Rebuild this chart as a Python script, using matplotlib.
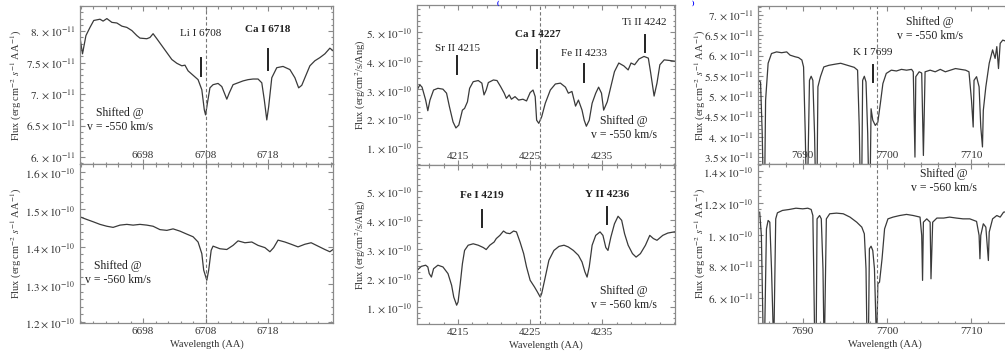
import numpy as np
import matplotlib
matplotlib.use("Agg")
import matplotlib.pyplot as plt
from matplotlib.ticker import FuncFormatter, AutoMinorLocator

plt.rcParams['font.family'] = ['Liberation Serif', 'DejaVu Serif']
plt.rcParams['mathtext.fontset'] = 'stix'
plt.rcParams['font.size'] = 8

# ---- data (wavelength in AA, flux in the unit given by the name) ----
# Li I 6708 region, v = -550 km/s (flux in 1e-11)
li_top = [(6687.9, 7.90), (6688.3, 7.64), (6688.85, 7.93), (6689.5, 8.06), (6690.1, 8.17),
          (6691.1, 8.19), (6691.6, 8.16), (6692.2, 8.20), (6693.0, 8.14), (6693.8, 8.13),
          (6694.6, 8.08), (6695.4, 8.06), (6696.2, 8.01), (6697.0, 7.93), (6697.5, 7.89),
          (6698.6, 7.88), (6699.1, 7.90), (6699.6, 7.96), (6700.2, 7.88), (6701.0, 7.77),
          (6701.8, 7.66), (6702.6, 7.55), (6703.4, 7.49), (6704.2, 7.45), (6704.7, 7.46),
          (6705.2, 7.37), (6706.0, 7.30), (6706.8, 7.23), (6707.4, 7.07), (6707.8, 6.75),
          (6708.0, 6.67), (6708.3, 6.86), (6708.7, 7.10), (6709.2, 7.15), (6710.0, 7.17),
          (6710.6, 7.12), (6711.4, 6.92), (6711.8, 7.02), (6712.4, 7.15), (6713.2, 7.18),
          (6714.0, 7.21), (6714.8, 7.23), (6715.6, 7.24), (6716.4, 7.24), (6717.0, 7.18),
          (6717.4, 6.91), (6717.8, 6.59), (6718.1, 6.80), (6718.6, 7.26), (6719.4, 7.42),
          (6720.4, 7.44), (6721.5, 7.39), (6722.3, 7.26), (6722.9, 7.10), (6723.4, 7.14),
          (6723.9, 7.26), (6724.7, 7.45), (6725.5, 7.53), (6726.3, 7.58), (6727.1, 7.64),
          (6727.9, 7.73), (6728.4, 7.69)]
# Li I 6708 region, v = -560 km/s (flux in 1e-10)
li_bot = [(6687.9, 1.480), (6689.0, 1.473), (6690.0, 1.467), (6691.1, 1.460), (6692.2, 1.455),
          (6693.2, 1.452), (6694.3, 1.458), (6695.4, 1.460), (6696.4, 1.458), (6697.5, 1.460),
          (6698.6, 1.458), (6699.6, 1.455), (6700.7, 1.446), (6701.8, 1.444), (6702.8, 1.448),
          (6703.9, 1.442), (6705.0, 1.434), (6706.0, 1.427), (6706.8, 1.413), (6707.4, 1.382),
          (6707.7, 1.338), (6708.2, 1.311), (6708.5, 1.338), (6708.9, 1.391), (6709.2, 1.402),
          (6710.3, 1.395), (6711.4, 1.393), (6712.4, 1.404), (6713.2, 1.416), (6714.3, 1.411),
          (6715.4, 1.413), (6716.4, 1.404), (6717.5, 1.398), (6718.3, 1.387), (6718.9, 1.398),
          (6719.6, 1.418), (6720.7, 1.413), (6721.7, 1.407), (6722.8, 1.400), (6723.9, 1.407),
          (6724.9, 1.411), (6726.0, 1.402), (6727.1, 1.393), (6727.9, 1.387), (6728.4, 1.393)]
# Ca I 4227 region, v = -550 km/s (flux in 1e-10)
ca_top = [(4209.3, 2.98), (4209.7, 3.16), (4210.0, 3.08), (4210.5, 2.63), (4210.8, 2.26),
          (4211.1, 2.63), (4211.6, 2.98), (4212.2, 3.04), (4212.9, 3.01), (4213.4, 2.87),
          (4213.8, 2.40), (4214.3, 1.87), (4214.7, 1.66), (4215.1, 1.76), (4215.6, 2.28),
          (4215.9, 2.34), (4216.3, 2.57), (4216.6, 3.04), (4217.1, 3.27), (4217.8, 3.31),
          (4218.3, 3.22), (4218.6, 2.81), (4218.9, 2.98), (4219.2, 3.24), (4219.9, 3.33),
          (4220.4, 3.31), (4220.9, 3.10), (4221.4, 2.87), (4221.7, 2.69), (4222.1, 2.81),
          (4222.4, 2.66), (4222.9, 2.75), (4223.4, 2.63), (4224.0, 2.66), (4224.5, 2.60),
          (4225.0, 2.89), (4225.4, 2.98), (4225.7, 2.75), (4225.9, 1.93), (4226.2, 1.82),
          (4226.6, 2.05), (4227.1, 2.52), (4227.8, 2.98), (4228.5, 3.19), (4229.2, 3.22),
          (4229.9, 3.08), (4230.3, 2.87), (4230.8, 2.93), (4231.3, 2.42), (4231.7, 2.63),
          (4232.2, 2.28), (4232.5, 1.93), (4232.8, 1.72), (4233.2, 1.93), (4233.6, 2.52),
          (4234.1, 2.87), (4234.5, 3.08), (4234.9, 2.87), (4235.2, 2.28), (4235.7, 2.57),
          (4236.2, 3.10), (4236.7, 3.62), (4237.3, 3.92), (4238.0, 3.82), (4238.6, 3.68),
          (4239.0, 3.92), (4239.5, 3.86), (4240.1, 4.06), (4240.8, 4.15), (4241.4, 4.09),
          (4241.7, 3.62), (4242.2, 2.77), (4242.6, 3.22), (4243.0, 3.86), (4243.6, 4.03),
          (4244.3, 4.01), (4245.2, 3.98)]
# Ca I 4227 region, v = -560 km/s (flux in 1e-10)
ca_bot = [(4209.3, 2.26), (4209.9, 2.40), (4210.5, 2.44), (4210.8, 2.38), (4211.0, 2.15),
          (4211.3, 2.03), (4211.6, 2.32), (4212.2, 2.44), (4212.9, 2.38), (4213.6, 2.15),
          (4214.1, 1.75), (4214.4, 1.34), (4214.8, 1.06), (4215.0, 1.17), (4215.3, 1.80),
          (4215.6, 2.49), (4215.9, 2.95), (4216.4, 3.13), (4217.1, 3.18), (4217.8, 3.13),
          (4218.5, 3.05), (4218.9, 2.98), (4219.4, 3.13), (4220.0, 3.24), (4220.3, 3.36),
          (4220.8, 3.47), (4221.3, 3.62), (4221.7, 3.55), (4222.2, 3.53), (4222.7, 3.62),
          (4223.1, 3.59), (4223.6, 3.24), (4224.1, 2.84), (4224.5, 2.38), (4225.0, 1.92),
          (4225.6, 1.69), (4226.0, 1.52), (4226.4, 1.34), (4226.6, 1.46), (4227.1, 2.03),
          (4227.6, 2.61), (4228.3, 2.95), (4229.0, 3.09), (4229.7, 3.13), (4230.3, 3.07),
          (4231.0, 2.95), (4231.7, 2.78), (4232.2, 2.55), (4232.6, 2.21), (4232.9, 2.03),
          (4233.2, 2.38), (4233.6, 3.13), (4234.1, 3.47), (4234.7, 3.59), (4235.1, 3.47),
          (4235.5, 3.05), (4235.8, 2.95), (4236.2, 3.41), (4236.7, 3.87), (4237.2, 4.13),
          (4237.7, 3.99), (4238.1, 3.53), (4238.6, 3.13), (4239.2, 2.84), (4239.7, 2.72),
          (4240.3, 2.84), (4241.0, 3.13), (4241.6, 3.47), (4242.1, 3.36), (4242.6, 3.30),
          (4243.4, 3.47), (4244.1, 3.55), (4245.2, 3.60)]
# K I 7699 region, v = -550 km/s (flux in 1e-11)
k_top = [(7684.7, 5.39), (7685.0, 5.35), (7685.2, 4.08), (7685.3, 3.00), (7685.5, 3.00),
         (7685.6, 4.90), (7685.9, 5.81), (7686.3, 6.05), (7686.9, 6.09), (7687.5, 6.07),
         (7688.1, 6.09), (7688.5, 6.01), (7689.1, 5.97), (7689.5, 5.95), (7689.9, 5.89),
         (7690.1, 5.72), (7690.3, 4.08), (7690.4, 3.00), (7690.6, 3.00), (7690.8, 5.39),
         (7691.0, 5.49), (7691.2, 5.39), (7691.4, 4.08), (7691.5, 3.00), (7691.7, 3.00),
         (7691.8, 5.23), (7692.1, 5.48), (7692.5, 5.72), (7693.1, 5.76), (7693.9, 5.79),
         (7694.5, 5.81), (7695.3, 5.76), (7696.1, 5.71), (7696.5, 5.64), (7696.7, 4.24),
         (7696.8, 3.00), (7697.0, 3.00), (7697.1, 5.39), (7697.3, 5.49), (7697.5, 5.35),
         (7697.7, 4.08), (7697.8, 3.00), (7698.0, 3.00), (7698.1, 4.69), (7698.3, 4.41),
         (7698.6, 4.28), (7698.9, 4.36), (7699.2, 4.82), (7699.5, 5.31), (7699.9, 5.56),
         (7700.5, 5.64), (7701.1, 5.62), (7701.7, 5.66), (7702.3, 5.64), (7702.9, 5.66),
         (7703.1, 5.60), (7703.3, 3.50), (7703.4, 5.48), (7703.8, 5.60), (7704.1, 5.57),
         (7704.3, 3.54), (7704.5, 5.60), (7705.1, 5.64), (7705.7, 5.60), (7706.3, 5.66),
         (7706.9, 5.60), (7707.5, 5.64), (7708.1, 5.68), (7708.7, 5.66), (7709.3, 5.64),
         (7709.7, 5.60), (7710.0, 4.90), (7710.2, 4.24), (7710.3, 5.39), (7710.6, 5.48),
         (7710.9, 5.23), (7711.1, 4.24), (7711.3, 3.75), (7711.4, 4.65), (7711.7, 5.23),
         (7712.1, 5.81), (7712.5, 6.14), (7712.8, 5.93), (7713.0, 6.22), (7713.2, 5.68),
         (7713.4, 6.30), (7713.7, 6.38), (7714.3, 6.34)]
# K I 7699 region, v = -560 km/s (flux in 1e-10)
k_bot = [(7684.9, 1.141), (7685.1, 0.995), (7685.3, 0.40), (7685.5, 0.40), (7685.7, 1.036),
         (7685.9, 1.089), (7686.1, 1.078), (7686.3, 0.785), (7686.5, 0.40), (7686.6, 0.40),
         (7686.8, 1.099), (7687.0, 1.137), (7687.6, 1.152), (7688.4, 1.158), (7689.2, 1.166),
         (7690.0, 1.162), (7690.6, 1.166), (7691.0, 1.158), (7691.2, 1.120), (7691.3, 0.785),
         (7691.4, 0.40), (7691.6, 0.40), (7691.7, 1.099), (7692.0, 1.120), (7692.2, 1.099),
         (7692.4, 0.785), (7692.5, 0.40), (7692.6, 0.40), (7692.8, 1.099), (7693.2, 1.131),
         (7694.0, 1.135), (7694.8, 1.131), (7695.6, 1.110), (7696.4, 1.078), (7697.0, 1.047),
         (7697.3, 1.005), (7697.5, 0.785), (7697.6, 0.40), (7697.8, 0.40), (7697.9, 0.911),
         (7698.1, 0.927), (7698.3, 0.900), (7698.5, 0.785), (7698.7, 0.40), (7698.8, 0.40),
         (7698.9, 0.691), (7699.1, 0.701), (7699.4, 0.848), (7699.7, 1.036), (7700.1, 1.099),
         (7700.7, 1.110), (7701.5, 1.120), (7702.3, 1.127), (7703.1, 1.120), (7703.9, 1.110),
         (7704.1, 0.995), (7704.2, 0.712), (7704.3, 1.078), (7704.7, 1.099), (7705.1, 1.078),
         (7705.2, 0.722), (7705.4, 1.078), (7705.9, 1.104), (7706.7, 1.104), (7707.4, 1.110),
         (7708.2, 1.104), (7709.0, 1.099), (7709.8, 1.099), (7710.6, 1.083), (7710.9, 0.995),
         (7711.0, 0.848), (7711.1, 0.995), (7711.4, 1.068), (7711.7, 1.047), (7712.0, 0.837),
         (7712.1, 1.016), (7712.5, 1.099), (7713.0, 1.120), (7713.4, 1.110), (7713.8, 1.141),
         (7714.3, 1.145)]

# line identifications: (label, x, label y, marker y0, marker y1, bold)
li_top_ids = [("Li I 6708", 6707.2, 7.97, 7.29, 7.58, False),
              ("Ca I 6718", 6718.0, 8.03, 7.39, 7.72, True)]
ca_top_ids = [("Sr II 4215", 4214.9, 4.44, 3.54, 4.15, False),
              ("Ca I 4227", 4226.0, 4.91, 3.74, 4.38, True),
              ("Fe II 4233", 4232.5, 4.24, 3.27, 3.89, False),
              ("Ti II 4242", 4240.9, 5.34, 4.29, 4.91, False)]
ca_bot_ids = [("Fe I 4219", 4218.3, 4.85, 3.76, 4.36, True),
              ("Y II 4236", 4235.7, 4.89, 3.87, 4.45, True)]
k_top_ids = [("K I 7699", 7698.3, 6.07, 5.35, 5.76, False)]

rest_lines = [6708.0, 4226.4, 7698.85]

ylabel_cgs = r"Flux (erg cm$^{-2}$ $s^{-1}$ AA$^{-1}$)"
ylabel_ang = r"Flux (erg/cm$^2$/s/Ang)"

LINE_C = '#3a3a3a'
FRAME_C = '#8a8a8a'
TEXT_C = '#333333'


def sci_fmt(v, pos):
    e = int(np.floor(np.log10(v) + 1e-9))
    m = round(v / 10 ** e, 2)
    ms = f"{m:.1f}".rstrip('0')
    return rf"${ms}\times10^{{{e}}}$"


def setup_axis(ax, xlim, ylim, xticks, yticks, top_panel):
    ax.set_xlim(xlim)
    ax.set_ylim(ylim)
    ax.set_xticks(xticks)
    ax.set_yticks(yticks)
    ax.yaxis.set_major_formatter(FuncFormatter(sci_fmt))
    ax.xaxis.set_minor_locator(AutoMinorLocator(5))
    ax.yaxis.set_minor_locator(AutoMinorLocator(5))
    ax.tick_params(which='both', direction='in', top=True, right=True,
                   color=FRAME_C, labelcolor=TEXT_C, width=0.8)
    ax.tick_params(which='major', length=3.5)
    ax.tick_params(which='minor', length=1.8)
    ax.tick_params(axis='y', pad=3)
    if top_panel:
        ax.tick_params(axis='x', pad=-9.5)
    else:
        ax.tick_params(axis='x', pad=3)
    for s in ax.spines.values():
        s.set_color(FRAME_C)
        s.set_linewidth(0.9)


def draw_panel(ax, pts, scale, ids, rest, note, note_xy):
    wl, fl = np.array(pts).T
    ax.plot(wl, fl * scale, color=LINE_C, lw=0.9)
    ax.axvline(rest, color='#777777', lw=0.8, ls=(0, (3, 2)))
    for lab, x, ly, y0, y1, bold in ids:
        ax.text(x, ly * scale, lab, ha='center', va='center', fontsize=8,
                color='#222222', fontweight='bold' if bold else 'normal')
        ax.plot([x, x], [y0 * scale, y1 * scale], color='#222222', lw=1.4)
    ax.text(note_xy[0], note_xy[1] * scale, note, ha='center', va='center',
            fontsize=8.5, color='#222222', linespacing=1.25)


fig = plt.figure(figsize=(10.05, 3.53), dpi=100)
W, H = 1005.0, 353.0


def add_ax(l, t, r, b):
    return fig.add_axes([l / W, 1 - b / H, (r - l) / W, (b - t) / H])


# left column
ax1 = add_ax(80, 6, 333, 164)
ax2 = add_ax(80, 164, 333, 323)
# middle column
ax3 = add_ax(417, 5, 675, 165)
ax4 = add_ax(417, 165, 675, 324)
# right column (runs off the right edge)
ax5 = add_ax(758, 6, 1012, 164)
ax6 = add_ax(758, 164, 1012, 323)

setup_axis(ax1, (6687.9, 6728.4), (5.89e-11, 8.4e-11), [6698, 6708, 6718],
           [6e-11, 6.5e-11, 7e-11, 7.5e-11, 8e-11], True)
setup_axis(ax2, (6687.9, 6728.4), (1.197e-10, 1.621e-10), [6698, 6708, 6718],
           [1.2e-10, 1.3e-10, 1.4e-10, 1.5e-10, 1.6e-10], False)
setup_axis(ax3, (4209.3, 4245.1), (0.37e-10, 5.94e-10), [4215, 4225, 4235],
           [1e-10, 2e-10, 3e-10, 4e-10, 5e-10], True)
setup_axis(ax4, (4209.3, 4245.1), (0.41e-10, 5.9e-10), [4215, 4225, 4235],
           [1e-10, 2e-10, 3e-10, 4e-10, 5e-10], False)
setup_axis(ax5, (7684.7, 7714.8), (3.33e-11, 7.22e-11), [7690, 7700, 7710],
           [3.5e-11, 4e-11, 4.5e-11, 5e-11, 5.5e-11, 6e-11, 6.5e-11, 7e-11], True)
setup_axis(ax6, (7684.7, 7714.8), (0.444e-10, 1.444e-10), [7690, 7700, 7710],
           [6e-11, 8e-11, 1e-10, 1.2e-10, 1.4e-10], False)

draw_panel(ax1, li_top, 1e-11, li_top_ids, rest_lines[0],
           "Shifted @\nv = -550 km/s", (6694.3, 6.59))
draw_panel(ax2, li_bot, 1e-10, [], rest_lines[0],
           "Shifted @\nv = -560 km/s", (6694.0, 1.330))
draw_panel(ax3, ca_top, 1e-10, ca_top_ids, rest_lines[1],
           "Shifted @\nv = -550 km/s", (4238.0, 1.65))
draw_panel(ax4, ca_bot, 1e-10, ca_bot_ids, rest_lines[1],
           "Shifted @\nv = -560 km/s", (4238.0, 1.31))
draw_panel(ax5, k_top, 1e-11, k_top_ids, rest_lines[2],
           "Shifted @\nv = -550 km/s", (7705.1, 6.66))
draw_panel(ax6, k_bot, 1e-10, [], rest_lines[2],
           "Shifted @\nv = -560 km/s", (7706.7, 1.337))

# axis labels
for ax, lab, xc in [(ax1, ylabel_cgs, -0.222), (ax2, ylabel_cgs, -0.222),
                    (ax3, ylabel_ang, -0.19), (ax4, ylabel_ang, -0.19),
                    (ax5, ylabel_cgs, -0.198), (ax6, ylabel_cgs, -0.198)]:
    ax.set_ylabel(lab, fontsize=7.5, color=TEXT_C)
    ax.yaxis.set_label_coords(xc, 0.5)
for ax in (ax2, ax4, ax6):
    ax.set_xlabel("Wavelength (AA)", fontsize=7.5, color=TEXT_C)
    ax.xaxis.set_label_coords(0.5, -0.105)

# remnants of a blue title above the figure
fig.text(0.4955, 0.999, "(", color='blue', fontsize=5, fontweight='bold',
         ha='center', va='top')
fig.text(0.6896, 0.999, ")", color='blue', fontsize=5, fontweight='bold',
         ha='center', va='top')

fig.savefig("out.png", dpi=100)
